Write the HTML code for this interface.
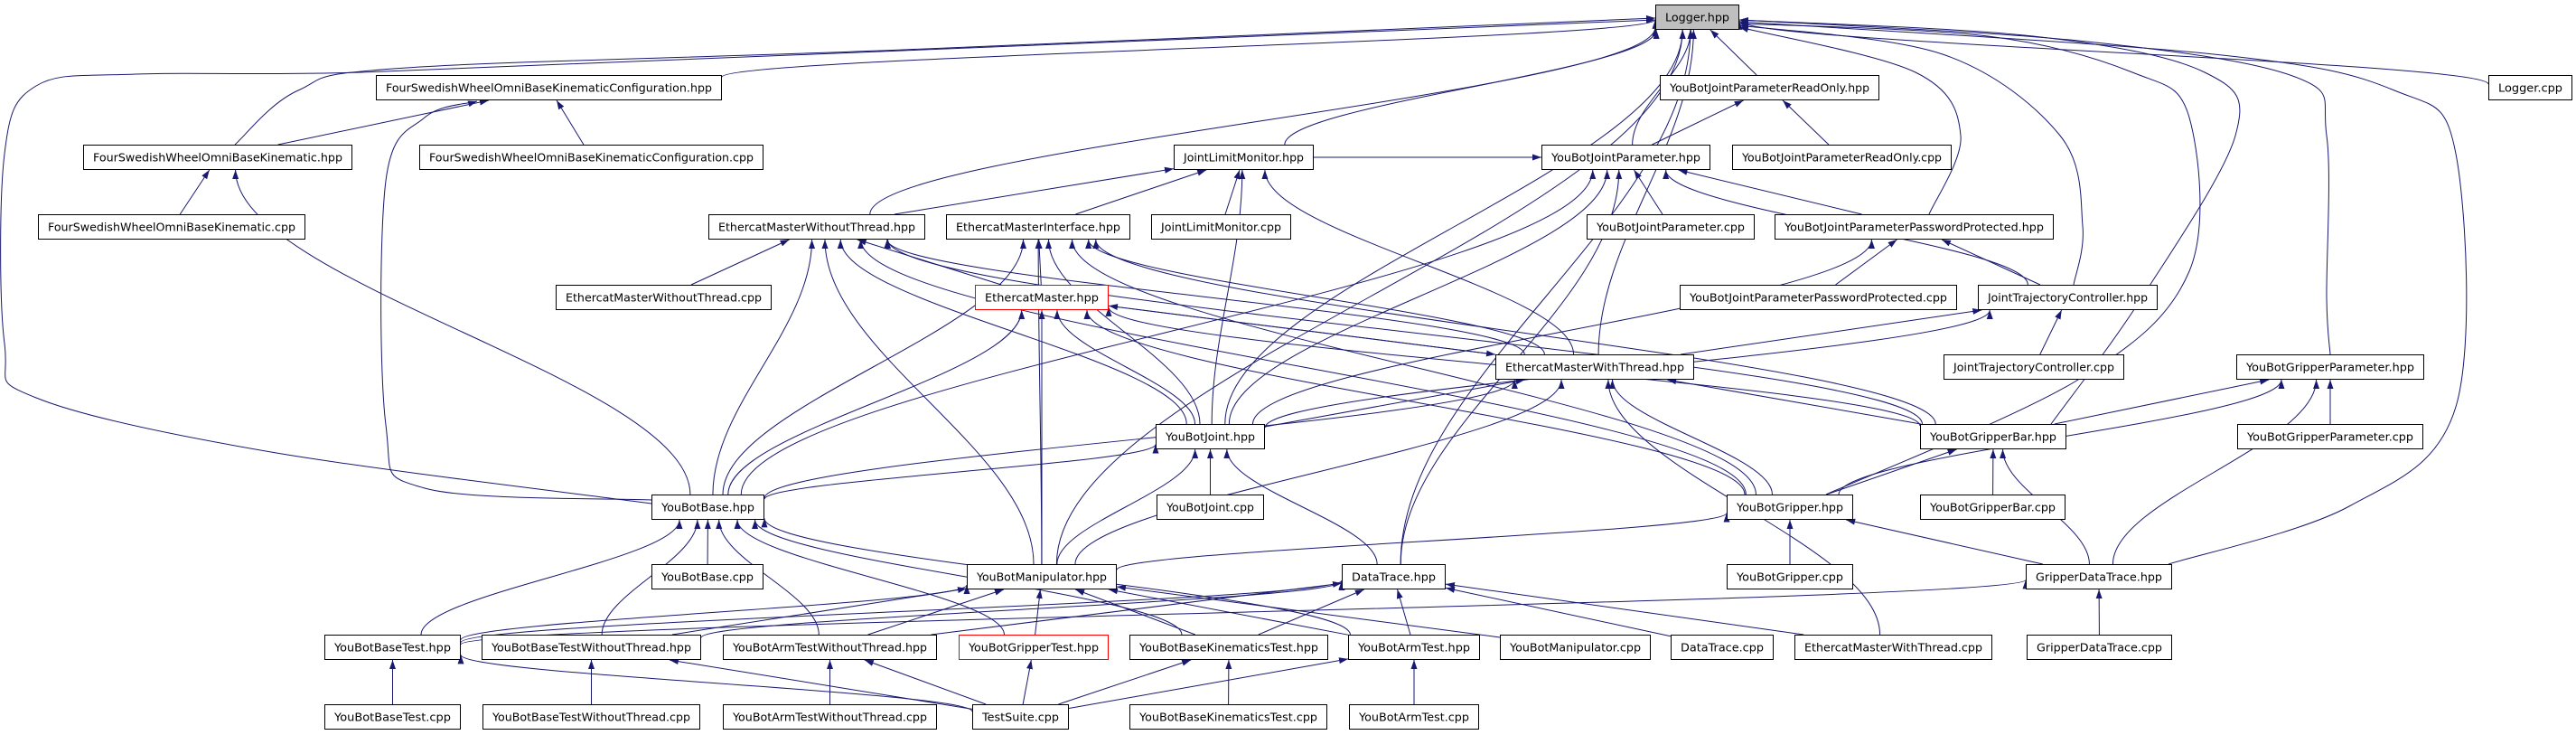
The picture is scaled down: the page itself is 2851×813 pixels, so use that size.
<!DOCTYPE html>
<html><head><meta charset="utf-8">
<style>
html,body{margin:0;padding:0;background:#fff;}
svg{display:block;}
text{font-family:"DejaVu Sans","Liberation Sans",sans-serif;font-size:12px;fill:#000;}
</style></head>
<body>
<svg id="g" xmlns="http://www.w3.org/2000/svg" width="2851" height="813" viewBox="0 0 2851 813">
<defs>
<marker id="a" viewBox="0 0 10 10" refX="10" refY="5" markerWidth="10" markerHeight="10" markerUnits="userSpaceOnUse" orient="auto">
<path d="M0,1.5 L10,5 L0,8.5 z" fill="#191970"/>
</marker>
</defs>
<g id="edges"></g>
<g id="nodes"></g>
</svg>
<script>
var R=[5,83,160,237,315,392,469,547,624,702,779];
var N={
"Logger.hpp":[1832,1925,0,2],
"FourSwedishWheelOmniBaseKinematicConfiguration.hpp":[416,799,1],
"YouBotJointParameterReadOnly.hpp":[1837,2080,1],
"Logger.cpp":[2754,2847,1],
"FourSwedishWheelOmniBaseKinematic.hpp":[92,390,2],
"FourSwedishWheelOmniBaseKinematicConfiguration.cpp":[464,845,2],
"JointLimitMonitor.hpp":[1299,1454,2],
"YouBotJointParameter.hpp":[1706,1893,2],
"YouBotJointParameterReadOnly.cpp":[1917,2160,2],
"FourSwedishWheelOmniBaseKinematic.cpp":[42,338,3],
"EthercatMasterWithoutThread.hpp":[784,1024,3],
"EthercatMasterInterface.hpp":[1047,1251,3],
"JointLimitMonitor.cpp":[1274,1429,3],
"YouBotJointParameter.cpp":[1756,1942,3],
"YouBotJointParameterPasswordProtected.hpp":[1964,2273,3],
"EthercatMasterWithoutThread.cpp":[615,854,4],
"EthercatMaster.hpp":[1079,1227,4,1],
"YouBotJointParameterPasswordProtected.cpp":[1859,2166,4],
"JointTrajectoryController.hpp":[2189,2388,4],
"EthercatMasterWithThread.hpp":[1655,1875,5],
"JointTrajectoryController.cpp":[2151,2351,5],
"YouBotGripperParameter.hpp":[2475,2683,5],
"YouBotJoint.hpp":[1279,1400,6],
"YouBotGripperBar.hpp":[2125,2287,6],
"YouBotGripperParameter.cpp":[2476,2682,6],
"YouBotBase.hpp":[721,846,7],
"YouBotJoint.cpp":[1280,1399,7],
"YouBotGripper.hpp":[1911,2051,7],
"YouBotGripperBar.cpp":[2125,2286,7],
"YouBotBase.cpp":[721,845,8],
"YouBotManipulator.hpp":[1070,1236,8],
"DataTrace.hpp":[1485,1600,8],
"YouBotGripper.cpp":[1911,2051,8],
"GripperDataTrace.hpp":[2242,2404,8],
"YouBotBaseTest.hpp":[359,510,9],
"YouBotBaseTestWithoutThread.hpp":[533,776,9],
"YouBotArmTestWithoutThread.hpp":[800,1037,9],
"YouBotGripperTest.hpp":[1061,1227,9,1],
"YouBotBaseKinematicsTest.hpp":[1250,1470,9],
"YouBotArmTest.hpp":[1492,1638,9],
"YouBotManipulator.cpp":[1660,1827,9],
"DataTrace.cpp":[1849,1963,9],
"EthercatMasterWithThread.cpp":[1986,2205,9],
"GripperDataTrace.cpp":[2243,2404,9],
"YouBotBaseTest.cpp":[359,510,10],
"YouBotBaseTestWithoutThread.cpp":[534,775,10],
"YouBotArmTestWithoutThread.cpp":[800,1037,10],
"TestSuite.cpp":[1076,1183,10],
"YouBotBaseKinematicsTest.cpp":[1250,1469,10],
"YouBotArmTest.cpp":[1493,1637,10]
};
var S={FC:"FourSwedishWheelOmniBaseKinematicConfiguration.hpp",FK:"FourSwedishWheelOmniBaseKinematic.hpp",
L:"Logger.hpp",RO:"YouBotJointParameterReadOnly.hpp",JP:"YouBotJointParameter.hpp",JL:"JointLimitMonitor.hpp",
PP:"YouBotJointParameterPasswordProtected.hpp",JT:"JointTrajectoryController.hpp",WT:"EthercatMasterWithoutThread.hpp",
EI:"EthercatMasterInterface.hpp",EM:"EthercatMaster.hpp",TH:"EthercatMasterWithThread.hpp",YJ:"YouBotJoint.hpp",
GP:"YouBotGripperParameter.hpp",GB:"YouBotGripperBar.hpp",GR:"YouBotGripper.hpp",B:"YouBotBase.hpp",M:"YouBotManipulator.hpp",
DT:"DataTrace.hpp",GD:"GripperDataTrace.hpp",BT:"YouBotBaseTest.hpp",BW:"YouBotBaseTestWithoutThread.hpp",
AW:"YouBotArmTestWithoutThread.hpp",GT:"YouBotGripperTest.hpp",BK:"YouBotBaseKinematicsTest.hpp",AT:"YouBotArmTest.hpp",
TS:"TestSuite.cpp"};
function n(k){return S[k]||k;}
var E=[
["FC","L"],["RO","L"],["JP","L"],["JL","L"],["WT","L"],["TH","L"],["YJ","L"],["M","L"],["DT","L"],
["Logger.cpp","L"],
["FourSwedishWheelOmniBaseKinematicConfiguration.cpp","FC"],["FK","FC"],["FourSwedishWheelOmniBaseKinematic.cpp","FK"],["B","FK"],
["JP","RO"],["YouBotJointParameterReadOnly.cpp","RO"],
["JointLimitMonitor.cpp","JL"],["WT","JL"],["EI","JL"],["YJ","JL"],["TH","JL"],["JL","JP"],
["YouBotJointParameter.cpp","JP"],["PP","JP"],["YJ","JP"],["JT","JP"],["DT","JP"],["B","JP"],
["YouBotJointParameterPasswordProtected.cpp","PP"],["JT","PP"],["YJ","PP"],
["JointTrajectoryController.cpp","JT"],["YJ","JT"],["TH","JT"],
["EthercatMasterWithoutThread.cpp","WT"],["EM","WT"],["B","WT"],["M","WT"],["YJ","WT"],["TH","WT"],["GR","WT"],["GB","WT"],
["EM","EI"],["B","EI"],["M","EI"],["YJ","EI"],["TH","EI"],["GR","EI"],["GB","EI"],
["TH","EM"],["B","EM"],["M","EM"],["YJ","EM"],["GR","EM"],["GB","EM"],
["EM","TH"],["YJ","TH"],["B","TH"],["M","TH"],["GR","TH"],["GB","TH"],["EthercatMasterWithThread.cpp","TH"],
["YouBotJoint.cpp","YJ"],["B","YJ"],["M","YJ"],["DT","YJ"],
["YouBotGripperParameter.cpp","GP"],["GB","GP"],["GR","GP"],["GD","GP"],
["YouBotGripperBar.cpp","GB"],["GR","GB"],["GD","GB"],
["YouBotGripper.cpp","GR"],["M","GR"],["GD","GR"],
["GripperDataTrace.cpp","GD"],["BT","GD"],
["YouBotBase.cpp","B"],["BT","B"],["BW","B"],["AW","B"],["GT","B"],["BK","B"],["AT","B"],
["BT","M"],["BW","M"],["AW","M"],["GT","M"],["BK","M"],["AT","M"],["YouBotManipulator.cpp","M"],
["BT","DT"],["BW","DT"],["AW","DT"],["BK","DT"],["AT","DT"],["DataTrace.cpp","DT"],["EthercatMasterWithThread.cpp","DT"],
["TS","BT"],["TS","BW"],["TS","AW"],["TS","GT"],["TS","BK"],["TS","AT"],
["YouBotBaseTest.cpp","BT"],["YouBotBaseTestWithoutThread.cpp","BW"],["YouBotArmTestWithoutThread.cpp","AW"],
["YouBotBaseKinematicsTest.cpp","BK"],["YouBotArmTest.cpp","AT"]
];
var P=[
[[721,557],[300,500],[40,440],[5,380],[5,170],[40,95],[150,82],[400,80],[900,60],[1832,22]],
[[260,160],[330,100],[450,75],[1000,55],[1832,20]],
[[721,553],[470,540],[427,470],[427,200],[470,130],[528,112]],
[[2400,624],[2600,560],[2718,450],[2718,170],[2650,100],[2450,60],[1925,24]],
[[2579,392],[2575,330],[2575,150],[2540,85],[2300,45],[1925,22]],
[[2270,469],[2370,330],[2474,150],[2440,80],[2250,40],[1925,22]],
[[2021,547],[2300,420],[2423,300],[2423,130],[2360,80],[2200,40],[1925,26]],
[[2295,315],[2305,250],[2280,150],[2150,60],[1925,28]],
[[2135,237],[2170,150],[2120,80],[1925,30]]
];
var NS="http://www.w3.org/2000/svg";
var eg=document.getElementById("edges"),ng=document.getElementById("nodes");
function box(k){var v=N[k];return {x1:v[0],x2:v[1],y1:R[v[2]],y2:R[v[2]]+28,cx:(v[0]+v[1])/2,cy:R[v[2]]+14};}
function clip(b,px,py){
  var dx=px-b.cx,dy=py-b.cy,hw=(b.x2-b.x1)/2,hh=14;
  var t=1e9; if(dx!==0)t=Math.min(t,hw/Math.abs(dx)); if(dy!==0)t=Math.min(t,hh/Math.abs(dy));
  return [b.cx+dx*t,b.cy+dy*t];}
function add(d){
  var pa=document.createElementNS(NS,"path");
  pa.setAttribute("d",d);pa.setAttribute("fill","none");pa.setAttribute("stroke","#191970");
  pa.setAttribute("stroke-width","1");pa.setAttribute("marker-end","url(#a)");
  eg.appendChild(pa);}
E.forEach(function(e){
  var c=box(n(e[0])),p=box(n(e[1]));
  var s=clip(c,p.cx,p.cy),t=clip(p,c.cx,c.cy);
  var d,dy=t[1]-s[1];
  if(Math.abs(dy)>60)
    d="M"+s[0]+","+s[1]+" C"+s[0]+","+(s[1]+dy*0.35)+" "+t[0]+","+(t[1]-dy*0.35)+" "+t[0]+","+t[1];
  else d="M"+s[0]+","+s[1]+" L"+t[0]+","+t[1];
  add(d);
});
P.forEach(function(p){
  var d="M"+p[0][0]+","+p[0][1];
  for(var i=0;i<p.length-1;i++){
    var p0=p[Math.max(0,i-1)],p1=p[i],p2=p[i+1],p3=p[Math.min(p.length-1,i+2)];
    var c1=[p1[0]+(p2[0]-p0[0])/6,p1[1]+(p2[1]-p0[1])/6],c2=[p2[0]-(p3[0]-p1[0])/6,p2[1]-(p3[1]-p1[1])/6];
    d+=" C"+c1[0]+","+c1[1]+" "+c2[0]+","+c2[1]+" "+p2[0]+","+p2[1];
  }
  add(d);
});
for(var k in N){var v=N[k],b=box(k);
  var r=document.createElementNS(NS,"rect");
  r.setAttribute("x",b.x1+0.5);r.setAttribute("y",b.y1+0.5);r.setAttribute("width",b.x2-b.x1-1);r.setAttribute("height",27);
  r.setAttribute("fill",v[3]==2?"#bfbfbf":"#fff");r.setAttribute("stroke",v[3]==1?"#ff0000":"#000");r.setAttribute("stroke-width","1");
  ng.appendChild(r);
  var t=document.createElementNS(NS,"text");
  t.setAttribute("x",b.cx);t.setAttribute("y",b.y1+18.5);t.setAttribute("text-anchor","middle");
  t.setAttribute("textLength",Math.max(10,b.x2-b.x1-22));t.setAttribute("lengthAdjust","spacingAndGlyphs");
  t.textContent=k;ng.appendChild(t);
}
</script>
</body></html>
